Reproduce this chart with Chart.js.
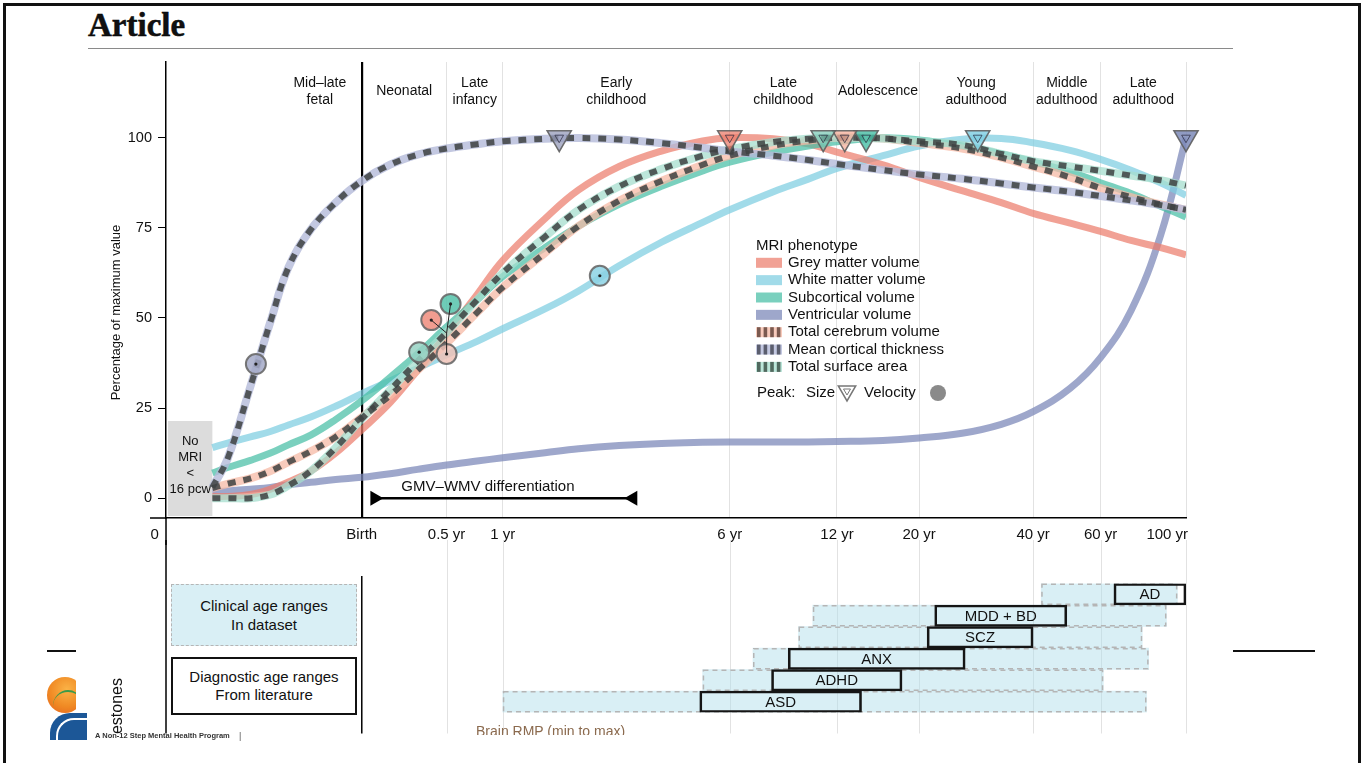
<!DOCTYPE html>
<html>
<head>
<meta charset="utf-8">
<title>Brain charts</title>
<script src="https://cdn.jsdelivr.net/npm/chart.js@4.4.1/dist/chart.umd.min.js"></script>
<style>
  html, body { margin: 0; padding: 0; background: #fff; }
  body { width: 1364px; height: 763px; position: relative; overflow: hidden; font-family: "Liberation Sans", Arial, sans-serif; color: #111; }
  canvas { position: absolute; left: 0; }
  #frame { position: absolute; left: 3px; top: 3px; width: 1352px; height: 800px; border: 3px solid #111; border-bottom: none; }
  #heading { position: absolute; left: 88px; top: 8px; font: bold 33px/34px "Liberation Serif", "DejaVu Serif", serif; -webkit-text-stroke: 0.5px #000; }
  #rule { position: absolute; left: 88px; top: 48px; width: 1145px; height: 1px; background: #8a8a8a; }
  .box { position: absolute; box-sizing: border-box; display: flex; align-items: center; justify-content: center; text-align: center; font-size: 15px; }
  #clinBox { left: 171px; top: 584px; width: 186px; height: 62px; background: #d9eff5; border: 1.5px dashed #b5b5b5; line-height: 19px; }
  #diagBox { left: 171px; top: 657px; width: 186px; height: 58px; background: #fff; border: 2px solid #111; line-height: 18px; }
  .hline { position: absolute; height: 1.5px; background: #111; }
  #logoTop { position: absolute; left: 47px; top: 676px; width: 29px; height: 37px; overflow: hidden; }
  #sun { position: absolute; left: 0; top: 1px; width: 36px; height: 36px; border-radius: 50%; background: radial-gradient(circle at 55% 35%, #fbb347, #f08a24 55%, #e4611c); }
  #hill { position: absolute; left: 6px; top: 14px; width: 30px; height: 30px; border-radius: 50%; border-top: 2px solid #3a9a4a; }
  #wave { position: absolute; left: 50px; top: 713px; width: 37px; height: 27px; background: #1c5797; border-top-left-radius: 20px; overflow: hidden; }
  #wave div { position: absolute; left: 6px; top: 5px; width: 40px; height: 30px; border-top-left-radius: 18px; border-top: 2px solid #fff; border-left: 2px solid #fff; }
  #estones { position: absolute; left: 117px; top: 706px; transform: translate(-50%, -50%) rotate(-90deg); font-size: 16px; white-space: nowrap; }
  #tagline { position: absolute; left: 95px; top: 732px; font: bold 7.5px/8px "Liberation Sans", Arial, sans-serif; color: #333; white-space: nowrap; }
  #bar { position: absolute; left: 239px; top: 731px; font-size: 9px; color: #555; }
  #rmpClip { position: absolute; left: 476px; top: 720px; width: 200px; height: 15px; overflow: hidden; }
  #rmpClip div { position: absolute; left: 0; top: 3px; font-size: 14px; line-height: 16px; color: #8b6a4e; white-space: nowrap; }
</style>
</head>
<body>
<div id="frame"></div>
<div id="heading">Article</div>
<div id="rule"></div>

<canvas id="mainChart" width="1364" height="545" style="top:0"></canvas>
<canvas id="rangeChart" width="1364" height="200" style="top:540px"></canvas>

<div class="box" id="clinBox">Clinical age ranges<br>In dataset</div>
<div class="box" id="diagBox">Diagnostic age ranges<br>From literature</div>

<div class="hline" style="left:47px; top:650px; width:29px"></div>
<div class="hline" style="left:1233px; top:650px; width:82px"></div>
<div id="logoTop"><div id="sun"></div><div id="hill"></div></div>
<div id="wave"><div></div></div>
<div id="estones">estones</div>
<div id="tagline">A Non-12 Step Mental Health Program</div>
<div id="bar">|</div>
<div id="rmpClip"><div>Brain RMP (min to max)</div></div>

<script>
// ages in years relative to birth (negative = fetal), values = % of maximum
const ageYears = [-0.45, -0.42, -0.37, -0.32, -0.27, -0.2, -0.11, 0, 0.14, 0.3, 0.5, 0.75, 1, 1.5, 2, 2.75, 3.75, 5, 6, 8, 10, 12, 16, 20, 26, 33, 40, 50, 60, 72, 86, 100];

const greyMatter        = [0.5, 0.5, 1, 2.5, 4.5, 7.5, 12.5, 19, 26.5, 35.5, 45.5, 56.5, 66, 77.5, 85.5, 92, 96.3, 99.1, 100, 99.7, 98.3, 96, 92.5, 89, 85.3, 82, 79, 76.3, 74, 71.5, 69.5, 67.5];
const whiteMatter       = [14, 15.3, 17, 18.5, 20.3, 22.5, 25.5, 29, 32.5, 36, 39.8, 43.5, 47, 52.5, 57.5, 64.5, 71, 76.5, 80, 85, 88.5, 91.5, 95, 97.7, 99.6, 99.8, 98.6, 96.5, 94, 91, 87.5, 84];
const subcortical       = [7, 8.5, 10.5, 12.5, 14.8, 17.5, 21.8, 27, 33.5, 40, 47.5, 55, 61.5, 69.5, 75.5, 81.5, 86.5, 90.8, 93.2, 96, 97.7, 98.9, 100, 99.4, 97.7, 95.5, 93.3, 90.5, 87.5, 84.5, 81, 78];
const ventricular       = [1.7, 2, 2.5, 3, 3.7, 4.4, 5.2, 5.8, 6.8, 8, 9.2, 10.3, 11.2, 12.6, 13.7, 14.6, 15.2, 15.5, 15.6, 15.6, 15.6, 15.7, 16, 16.7, 18, 20.5, 24, 30.5, 39, 52, 73, 100];
const totalCerebrum     = [2.8, 4, 5.5, 7.5, 10, 13, 17, 22.5, 28.5, 35.5, 43, 51.5, 58.5, 68, 75.5, 82.5, 88, 92.5, 95, 97.8, 99.2, 100, 99.8, 98.5, 97, 94.5, 92, 89, 86, 83.5, 81.5, 80];
const corticalThickness = [3, 11, 31, 49, 64, 74.5, 82, 88, 92.5, 95.3, 97, 98.2, 99, 99.7, 99.9, 99.5, 98.5, 97.2, 96.2, 95, 93.8, 92.7, 91, 89.8, 88.6, 87.3, 86.2, 85, 83.8, 82.6, 81.3, 80];
const surfaceArea       = [0, 0, 0, 1, 3.5, 7.5, 14, 22, 30, 38, 46, 55, 62.5, 72.5, 80, 86.5, 91.3, 95, 96.8, 98.8, 99.7, 100, 99.8, 99, 98, 95.5, 93.5, 92, 90.8, 89.5, 88.2, 86.7];

const phenotypes = ['Grey matter volume', 'White matter volume', 'Subcortical volume', 'Ventricular volume',
  'Total cerebrum volume', 'Mean cortical thickness', 'Total surface area'];
const phenotypeSeries = [greyMatter, whiteMatter, subcortical, ventricular, totalCerebrum, corticalThickness, surfaceArea];

// peaks (same order as phenotypes)
const peakSizeAge = [6, 28.6, 14.4, 100, 12.6, 1.7, 11];
const peakSizeValue = [100, 100, 100, 100, 100, 100, 100];
const peakVelocityAge = [0.39, 2.37, 0.53, null, 0.5, -0.357, 0.31];
const peakVelocityValue = [49.4, 61.7, 53.9, null, 40, 37.2, 40.5];
const velocityLinkAge = 0.5;
const velocityLinkValue = 45.8;
const velocityLinked = [0, 2, 4];

// axis
const xMinAge = -0.526;
const xMaxAge = 100;
const tickAges = [xMinAge, 0, 0.5, 1, 6, 12, 20, 40, 60, 100];
const tickLabels = ['0', 'Birth', '0.5 yr', '1 yr', '6 yr', '12 yr', '20 yr', '40 yr', '60 yr', '100 yr'];
const yTicks = [0, 25, 50, 75, 100];

// life stages
const stageNames = [['Mid\u2013late', 'fetal'], ['Neonatal'], ['Late', 'infancy'], ['Early', 'childhood'], ['Late', 'childhood'],
  ['Adolescence'], ['Young', 'adulthood'], ['Middle', 'adulthood'], ['Late', 'adulthood']];
const stageBounds = [-0.3, 0, 0.5, 1, 6, 12, 20, 40, 60, 100];

const noMriAge = -0.45;   // 16 pcw
const noMriTop = 21.4;
const gmvWmvRange = [0.04, 3.15];

// disorders (lower panel)
const disorders = ['AD', 'MDD + BD', 'SCZ', 'ANX', 'ADHD', 'ASD'];
const clinicalMin = [42, 10.3, 9.4, 7, 5, 1];
const clinicalMax = [95, 89, 77, 80, 61, 79];
const diagnosticMin = [65, 22, 21, 8.8, 7.9, 4.9];
const diagnosticMax = [100, 49, 40, 26.5, 18, 14];

// styles
const FONT = '"Liberation Sans", Arial, sans-serif';
const lineColors = ['rgba(235,125,108,0.72)', 'rgba(125,205,225,0.72)', 'rgba(70,190,165,0.72)', 'rgba(125,138,185,0.75)',
  'rgba(246,185,165,0.75)', 'rgba(180,186,218,0.8)', 'rgba(165,222,205,0.75)'];
const stripeColors = [null, null, null, null, '#7b5a50', '#5b5e6e', '#51695f'];
const triangleColors = ['rgba(235,125,108,0.75)', 'rgba(125,205,225,0.8)', 'rgba(70,190,165,0.8)', 'rgba(125,138,185,0.85)',
  'rgba(245,175,155,0.75)', 'rgba(150,155,185,0.75)', 'rgba(120,200,180,0.7)'];
const circleColors = ['rgba(238,140,125,0.85)', 'rgba(140,210,228,0.85)', 'rgba(85,195,170,0.85)', null,
  'rgba(240,195,185,0.85)', 'rgba(165,170,200,0.85)', 'rgba(150,210,195,0.85)'];
const dashColor = 'rgba(62,66,66,0.85)';

const ageToDays = a => 280 + a * 365.25;
const xMinDays = ageToDays(xMinAge);
const xMaxDays = ageToDays(xMaxAge);

function curve(values) {
  return ageYears.map((a, i) => ({ x: ageToDays(a), y: values[i] }));
}

// ---- datasets
const datasets = [];
[3, 1, 0, 2].forEach((p, k) => {
  datasets.push({
    label: phenotypes[p], data: curve(phenotypeSeries[p]),
    borderColor: lineColors[p], borderWidth: 7, pointRadius: 0,
    tension: 0.4, borderCapStyle: 'butt', order: 30 - k
  });
});
[4, 6, 5].forEach((p, k) => {
  datasets.push({
    label: phenotypes[p], data: curve(phenotypeSeries[p]),
    borderColor: lineColors[p], borderWidth: 8, pointRadius: 0,
    tension: 0.4, borderCapStyle: 'butt', order: 25 - k
  });
  datasets.push({
    label: phenotypes[p] + ' dashes', data: curve(phenotypeSeries[p]),
    borderColor: dashColor, borderWidth: 6, borderDash: [8, 8], pointRadius: 0,
    tension: 0.4, borderCapStyle: 'butt', order: 15 - k
  });
});

const velocityPoints = [];
const velocityColors = [];
peakVelocityAge.forEach((a, i) => {
  if (a === null) return;
  velocityPoints.push({ x: ageToDays(a), y: peakVelocityValue[i] });
  velocityColors.push(circleColors[i]);
});
const linkPoints = [];
velocityLinked.forEach(i => {
  linkPoints.push({ x: ageToDays(peakVelocityAge[i]), y: peakVelocityValue[i] });
  linkPoints.push({ x: ageToDays(velocityLinkAge), y: velocityLinkValue });
  linkPoints.push({ x: ageToDays(velocityLinkAge), y: null });
});
const sizePoints = peakSizeAge.map((a, i) => ({ x: ageToDays(a), y: peakSizeValue[i] }));

datasets.push({ label: 'velocity peaks', data: velocityPoints, showLine: false, pointStyle: 'circle', pointRadius: 10,
  pointBackgroundColor: velocityColors, pointBorderColor: 'rgba(105,105,105,0.9)', pointBorderWidth: 2, clip: false, order: 5 });
datasets.push({ label: 'velocity links', data: linkPoints, borderColor: '#222', borderWidth: 1, pointRadius: 0, spanGaps: false, order: 4 });
datasets.push({ label: 'velocity centres', data: velocityPoints, showLine: false, pointRadius: 1.6,
  pointBackgroundColor: '#222', pointBorderWidth: 0, order: 3 });
datasets.push({ label: 'size peaks', data: sizePoints, showLine: false, pointStyle: 'triangle', pointRotation: 180, pointRadius: 14,
  pointBackgroundColor: triangleColors, pointBorderColor: 'rgba(95,95,95,0.9)', pointBorderWidth: 1.5, clip: false, order: 2 });
datasets.push({ label: 'size peaks inner', data: sizePoints, showLine: false, pointStyle: 'triangle', pointRotation: 180, pointRadius: 5,
  pointBackgroundColor: 'rgba(0,0,0,0)', pointBorderColor: 'rgba(40,40,60,0.7)', pointBorderWidth: 1, clip: false, order: 1 });

// ---- plugins
const mainDecor = {
  id: 'mainDecor',
  beforeDatasetsDraw(chart) {
    const { ctx, chartArea, scales: { x, y } } = chart;
    // No MRI region
    const bx0 = chartArea.left + 2, bx1 = x.getPixelForValue(ageToDays(noMriAge));
    const by0 = y.getPixelForValue(noMriTop), by1 = chartArea.bottom - 2;
    ctx.save();
    ctx.fillStyle = '#dcdcdc';
    ctx.fillRect(bx0, by0, bx1 - bx0, by1 - by0);
    ctx.fillStyle = '#111';
    ctx.font = '13px ' + FONT;
    ctx.textAlign = 'center';
    ctx.textBaseline = 'middle';
    ['No', 'MRI', '<', '16 pcw'].forEach((t, i) => ctx.fillText(t, (bx0 + bx1) / 2, by0 + 20 + i * 16));
    ctx.restore();
  },
  afterDatasetsDraw(chart) {
    const { ctx, chartArea, scales: { x, y } } = chart;
    ctx.save();
    // GMV-WMV differentiation arrow
    const ay = y.getPixelForValue(0);
    const ax0 = x.getPixelForValue(ageToDays(gmvWmvRange[0]));
    const ax1 = x.getPixelForValue(ageToDays(gmvWmvRange[1]));
    ctx.strokeStyle = '#000';
    ctx.fillStyle = '#000';
    ctx.lineWidth = 2.5;
    ctx.beginPath(); ctx.moveTo(ax0 + 4, ay); ctx.lineTo(ax1 - 4, ay); ctx.stroke();
    ctx.beginPath(); ctx.moveTo(ax0, ay - 7.5); ctx.lineTo(ax0, ay + 7.5); ctx.lineTo(ax0 + 13, ay); ctx.closePath(); ctx.fill();
    ctx.beginPath(); ctx.moveTo(ax1, ay - 7.5); ctx.lineTo(ax1, ay + 7.5); ctx.lineTo(ax1 - 13, ay); ctx.closePath(); ctx.fill();
    ctx.font = '15px ' + FONT;
    ctx.textAlign = 'left';
    ctx.textBaseline = 'middle';
    ctx.fillStyle = '#111';
    ctx.fillText('GMV\u2013WMV differentiation', ax0 + 31, ay - 11);

    // life stage labels
    ctx.font = '14px ' + FONT;
    ctx.textAlign = 'center';
    stageNames.forEach((lines, i) => {
      const cx = (x.getPixelForValue(ageToDays(stageBounds[i])) + x.getPixelForValue(ageToDays(stageBounds[i + 1]))) / 2;
      if (lines.length === 1) ctx.fillText(lines[0], cx, chartArea.top + 29.5);
      else lines.forEach((t, k) => ctx.fillText(t, cx, chartArea.top + 21 + k * 17));
    });

    // legend
    ctx.font = '15px ' + FONT;
    const lx = chartArea.left + 590, ly = chartArea.top + 184;
    ctx.textAlign = 'left';
    ctx.fillText('MRI phenotype', lx, ly);
    phenotypes.forEach((name, i) => {
      const cy = ly + 16.8 + i * 17.35;
      ctx.fillStyle = lineColors[i];
      ctx.fillRect(lx, cy - 5, 26, 10);
      if (stripeColors[i]) {
        ctx.fillStyle = stripeColors[i];
        for (let k = 0; k < 4; k++) ctx.fillRect(lx + 1 + k * 6.6, cy - 5, 3.6, 10);
      }
      ctx.fillStyle = '#111';
      ctx.fillText(name, lx + 32, cy);
    });
    const py = ly + 147;
    ctx.fillText('Peak:', lx + 1, py);
    ctx.fillText('Size', lx + 50, py);
    const tx = lx + 91, ty = py - 2;
    ctx.strokeStyle = '#777';
    ctx.lineWidth = 1.5;
    ctx.beginPath(); ctx.moveTo(tx - 8.7, ty - 5); ctx.lineTo(tx + 8.7, ty - 5); ctx.lineTo(tx, ty + 10); ctx.closePath(); ctx.stroke();
    ctx.lineWidth = 1;
    ctx.beginPath(); ctx.moveTo(tx - 3.5, ty - 2); ctx.lineTo(tx + 3.5, ty - 2); ctx.lineTo(tx, ty + 4); ctx.closePath(); ctx.stroke();
    ctx.fillText('Velocity', lx + 108, py);
    ctx.fillStyle = '#8a8a8a';
    ctx.beginPath(); ctx.arc(lx + 182, py, 8, 0, Math.PI * 2); ctx.fill();
    ctx.restore();
  },
  afterDraw(chart) {
    const { ctx, chartArea, scales: { y } } = chart;
    ctx.save();
    ctx.strokeStyle = '#000';
    ctx.lineWidth = 1.5;
    ctx.beginPath();
    ctx.moveTo(chartArea.left - 16, chartArea.bottom); ctx.lineTo(chartArea.left, chartArea.bottom);
    ctx.moveTo(chartArea.left, chartArea.bottom); ctx.lineTo(chartArea.left, chart.height);
    ctx.stroke();
    // y axis title
    ctx.translate(116, y.getPixelForValue(51.5));
    ctx.rotate(-Math.PI / 2);
    ctx.fillStyle = '#111';
    ctx.font = '13px ' + FONT;
    ctx.textAlign = 'center';
    ctx.textBaseline = 'middle';
    ctx.fillText('Percentage of maximum value', 0, 0);
    ctx.restore();
  }
};

new Chart(document.getElementById('mainChart'), {
  type: 'line',
  data: { datasets },
  options: {
    responsive: false,
    animation: false,
    events: [],
    layout: { padding: { left: 100, right: 178, top: 62, bottom: 0 } },
    plugins: { legend: { display: false }, tooltip: { enabled: false } },
    scales: {
      x: {
        type: 'logarithmic', min: xMinDays, max: xMaxDays,
        afterBuildTicks: s => { s.ticks = tickAges.map(a => ({ value: ageToDays(a) })); },
        afterFit: s => { s.height = 27; },
        ticks: {
          autoSkip: false, maxRotation: 0, padding: 8, color: '#111', font: { family: FONT, size: 15 },
          callback: (v, i) => i === 0 ? tickLabels[i] + '\u2003\u2002' : (i === tickLabels.length - 1 ? tickLabels[i] + '\u2003\u2003\u2002' : tickLabels[i])
        },
        grid: {
          drawTicks: false,
          color: c => c.index === 0 ? 'rgba(0,0,0,0)' : (c.index === 1 ? '#000' : '#e2e2e2'),
          lineWidth: c => c.index === 1 ? 2.2 : 1
        },
        border: { display: true, color: '#000', width: 1.5 }
      },
      y: {
        min: -5.5, max: 121,
        afterBuildTicks: s => { s.ticks = yTicks.map(v => ({ value: v })); },
        afterFit: s => { s.width = 66; },
        ticks: { padding: 6, color: '#111', font: { family: FONT, size: 14.5 } },
        grid: { drawOnChartArea: false, drawTicks: true, tickLength: 8, color: '#000', lineWidth: 1 },
        border: { display: true, color: '#000', width: 1.5 }
      }
    }
  },
  plugins: [mainDecor]
});

// ---- lower panel: clinical and diagnostic age ranges
const rangeDecor = {
  id: 'rangeDecor',
  beforeDatasetsDraw(chart) {
    const { ctx, chartArea, scales: { x } } = chart;
    const bottom = chartArea.bottom + 21;
    ctx.save();
    ctx.strokeStyle = '#e2e2e2';
    ctx.lineWidth = 1;
    tickAges.forEach((a, i) => {
      if (i < 2) return;
      const px = Math.round(x.getPixelForValue(ageToDays(a))) + 0.5;
      ctx.beginPath(); ctx.moveTo(px, 0); ctx.lineTo(px, bottom); ctx.stroke();
    });
    ctx.strokeStyle = '#000';
    ctx.lineWidth = 1.5;
    const bx = x.getPixelForValue(ageToDays(0));
    ctx.beginPath(); ctx.moveTo(bx, chartArea.top - 7.5); ctx.lineTo(bx, bottom); ctx.stroke();
    ctx.beginPath(); ctx.moveTo(chartArea.left, 0); ctx.lineTo(chartArea.left, bottom); ctx.stroke();
    ctx.restore();
  },
  afterDatasetDraw(chart, args) {
    if (args.index !== 0) return;
    const { ctx } = chart;
    ctx.save();
    ctx.strokeStyle = '#b5b5b5';
    ctx.lineWidth = 1.5;
    ctx.setLineDash([5, 4]);
    args.meta.data.forEach(el => {
      const { x, y, base, height } = el.getProps(['x', 'y', 'base', 'height'], true);
      const l = Math.min(x, base), r = Math.max(x, base);
      ctx.strokeRect(l + 0.75, y - height / 2 + 0.75, r - l - 1.5, height - 1.5);
    });
    ctx.restore();
  },
  afterDatasetsDraw(chart) {
    const { ctx } = chart;
    const meta = chart.getDatasetMeta(1);
    ctx.save();
    ctx.fillStyle = '#111';
    ctx.font = '15px ' + FONT;
    ctx.textAlign = 'center';
    ctx.textBaseline = 'middle';
    meta.data.forEach((el, i) => {
      const { x, y, base } = el.getProps(['x', 'y', 'base'], true);
      ctx.fillText(disorders[i], (x + base) / 2, y + 1);
    });
    ctx.restore();
  }
};

new Chart(document.getElementById('rangeChart'), {
  type: 'bar',
  data: {
    labels: disorders,
    datasets: [
      {
        label: 'Clinical age ranges in dataset',
        data: disorders.map((d, i) => [ageToDays(clinicalMin[i]), ageToDays(clinicalMax[i])]),
        backgroundColor: 'rgba(175,222,234,0.48)', borderWidth: 0,
        barPercentage: 1, categoryPercentage: 1, grouped: false, order: 2
      },
      {
        label: 'Diagnostic age ranges from literature',
        data: disorders.map((d, i) => [ageToDays(diagnosticMin[i]), ageToDays(diagnosticMax[i])]),
        backgroundColor: 'rgba(0,0,0,0)', borderColor: '#151515', borderWidth: 2, borderSkipped: false,
        barPercentage: 1, categoryPercentage: 1, grouped: false, order: 1
      }
    ]
  },
  options: {
    indexAxis: 'y',
    responsive: false,
    animation: false,
    events: [],
    layout: { padding: { left: 166, right: 178, top: 43.5, bottom: 27.5 } },
    plugins: { legend: { display: false }, tooltip: { enabled: false } },
    scales: {
      x: { type: 'logarithmic', display: false, min: xMinDays, max: xMaxDays },
      y: { type: 'category', display: false }
    }
  },
  plugins: [rangeDecor]
});
</script>
</body>
</html>
